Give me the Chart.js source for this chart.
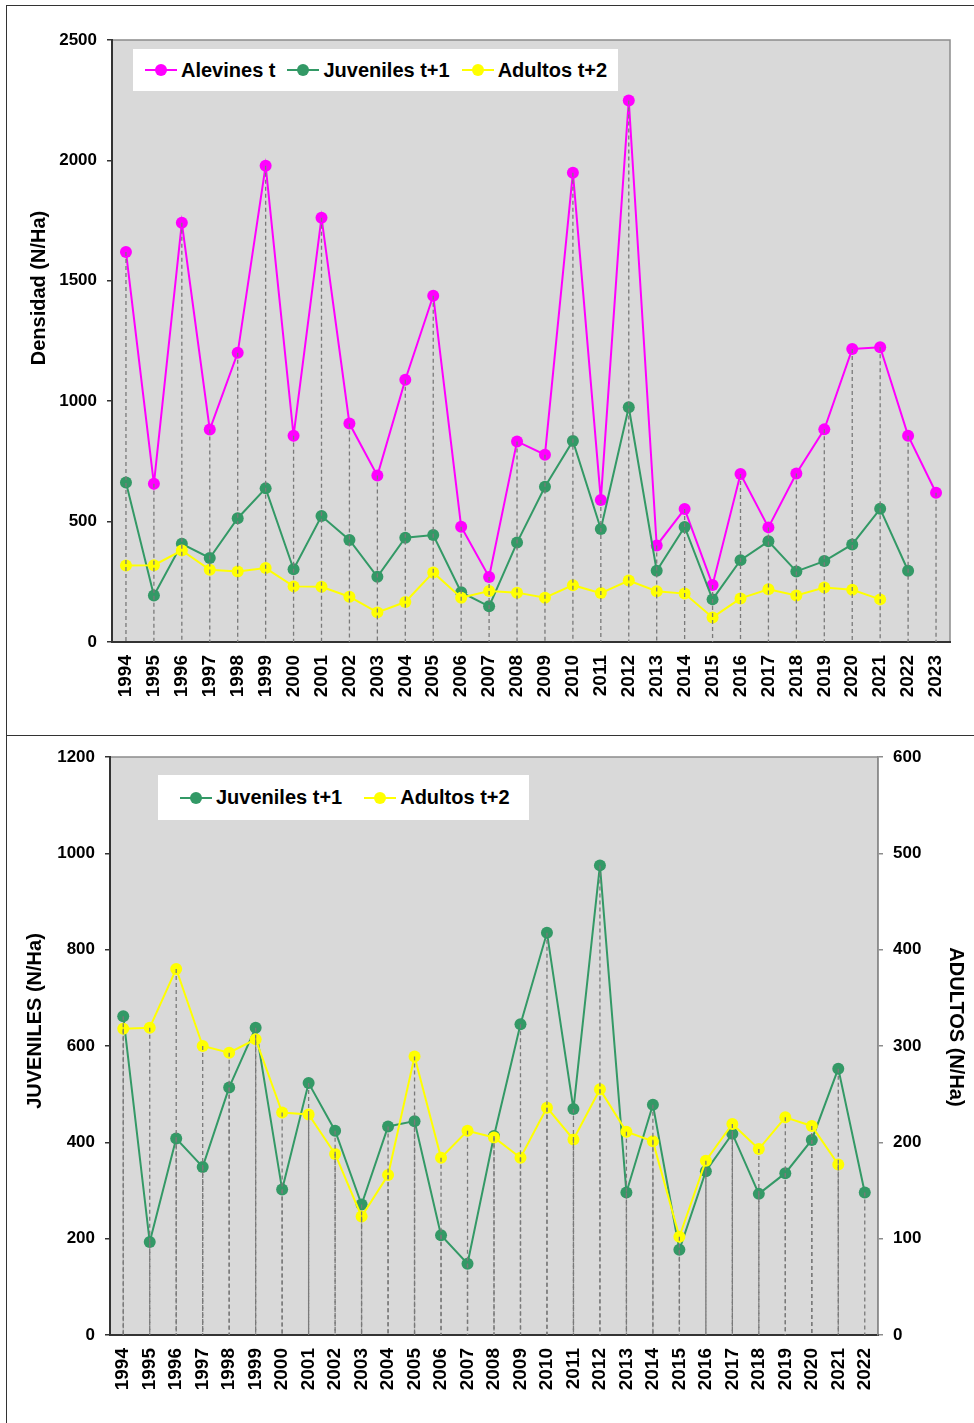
<!DOCTYPE html>
<html>
<head>
<meta charset="utf-8">
<script src="https://cdn.jsdelivr.net/npm/chart.js@4.4.1/dist/chart.umd.min.js"></script>
<style>
body { margin: 0; background: #fff; width: 974px; height: 1423px; overflow: hidden; position: relative;
       font-family: "Liberation Sans", Arial, sans-serif; }
.frame { position: absolute; border: 1px solid #333; }
.chart { position: absolute; left: 0; }
.legend { position: absolute; background: #fff; display: flex; align-items: center; box-sizing: border-box;
          font-weight: bold; font-size: 20px; color: #000; white-space: nowrap; }
.item { display: flex; align-items: center; }
.sym { position: relative; width: 32px; height: 2px; margin-right: 4px; }
.sym i { position: absolute; left: 10px; top: -5px; width: 12px; height: 12px; border-radius: 50%; }
</style>
</head>
<body>
<div class="frame" style="left:6px;top:5px;width:990px;height:729px"></div>
<div class="frame" style="left:6px;top:735px;width:990px;height:700px"></div>
<div class="chart" style="top:0;width:974px;height:735px"><canvas id="c1"></canvas></div>
<div class="chart" style="top:735px;width:974px;height:688px"><canvas id="c2"></canvas></div>
<div id="lg1" class="legend" style="left:133px;top:49px;width:485px;height:42px;padding-left:12px"></div>
<div id="lg2" class="legend" style="left:158px;top:775px;width:371px;height:45px;padding-left:22px"></div>
<script>
// datos (N/Ha)
const years = ['1994', '1995', '1996', '1997', '1998', '1999', '2000', '2001', '2002', '2003',
               '2004', '2005', '2006', '2007', '2008', '2009', '2010', '2011', '2012', '2013',
               '2014', '2015', '2016', '2017', '2018', '2019', '2020', '2021', '2022', '2023'];
const alevines = [1620, 657, 1741, 882, 1201, 1978, 857, 1762, 907, 691, 1089, 1438, 479, 270, 833,
                  778, 1949, 590, 2249, 401, 552, 237, 698, 476, 700, 883, 1217, 1224, 857, 620];
const juveniles = [662, 193, 408, 349, 514, 638, 302, 523, 424, 271, 433, 444, 207, 148, 413,
                   645, 835, 469, 975, 296, 478, 177, 340, 418, 293, 336, 405, 553, 296];
const adultos = [318, 319, 380, 300, 293, 307, 231, 229, 188, 123, 166, 289, 184, 212, 205,
                 184, 236, 203, 255, 211, 201, 102, 181, 219, 193, 226, 217, 177];
const ticksDensidad = [0, 500, 1000, 1500, 2000, 2500];
const ticksJuv = [0, 200, 400, 600, 800, 1000, 1200];
const ticksAdu = [0, 100, 200, 300, 400, 500, 600];

const MAG = '#ff00ff', GREEN = '#339966', YEL = '#ffff00';
const FAM = '"Liberation Sans", Arial, sans-serif';
Chart.defaults.font.family = FAM;
Chart.defaults.font.weight = 'bold';
Chart.defaults.color = '#000';

// fondo gris del área de trazado
const plotBg = {
  id: 'plotBg',
  beforeDraw(chart) {
    const { ctx, chartArea: a } = chart;
    ctx.save();
    ctx.fillStyle = '#d9d9d9';
    ctx.fillRect(a.left, a.top, a.width, a.height);
    ctx.strokeStyle = '#8c8c8c';
    ctx.lineWidth = 1.5;
    ctx.strokeRect(a.left, a.top, a.width, a.height);
    ctx.restore();
  }
};

// líneas de proyección (drop lines), una por grupo de ejes
const dropLines = {
  id: 'dropLines',
  afterDatasetsDraw(chart, args, opts) {
    const ctx = chart.ctx, bottom = chart.chartArea.bottom;
    ctx.save();
    ctx.strokeStyle = '#7a7a7a';
    ctx.lineWidth = 1.3;
    ctx.setLineDash([4, 3]);
    opts.groups.forEach(group => {
      chart.data.labels.forEach((lab, i) => {
        let top = null;
        group.forEach(di => {
          const v = chart.data.datasets[di].data[i];
          const pt = chart.getDatasetMeta(di).data[i];
          if (v != null && pt) top = top === null ? pt.y : Math.min(top, pt.y);
        });
        if (top === null) return;
        const x = chart.scales.x.getPixelForValue(i);
        ctx.beginPath();
        ctx.moveTo(x, top);
        ctx.lineTo(x, bottom);
        ctx.stroke();
      });
    });
    ctx.restore();
  }
};

const axisTitles = {
  id: 'axisTitles',
  afterDraw(chart, args, opts) {
    const ctx = chart.ctx;
    opts.items.forEach(t => {
      ctx.save();
      ctx.translate(t.x, t.y);
      ctx.rotate(t.rot * Math.PI / 180);
      ctx.font = 'bold 20px ' + FAM;
      ctx.fillStyle = '#000';
      ctx.textAlign = 'center';
      ctx.textBaseline = 'middle';
      ctx.fillText(t.text, 0, 0);
      ctx.restore();
    });
  }
};

function buildLegend(chart, el, gaps) {
  chart.data.datasets.forEach((ds, i) => {
    const item = document.createElement('span');
    item.className = 'item';
    if (i > 0) item.style.marginLeft = gaps + 'px';
    const sym = document.createElement('span');
    sym.className = 'sym';
    sym.style.background = ds.borderColor;
    const dot = document.createElement('i');
    dot.style.background = ds.borderColor;
    sym.appendChild(dot);
    const txt = document.createElement('span');
    txt.textContent = ds.label;
    item.appendChild(sym);
    item.appendChild(txt);
    el.appendChild(item);
  });
}

const yearTicks = { font: { size: 19, weight: 'bold' }, color: '#000', minRotation: 90, maxRotation: 90,
                    autoSkip: false, padding: 13 };
const valTicks = (list) => ({ font: { size: 17, weight: 'bold' }, color: '#000', padding: 10,
                              stepSize: list[1] - list[0], format: { useGrouping: false } });

const common = {
  responsive: true,
  maintainAspectRatio: false,
  animation: false,
  events: [],
  elements: {
    line: { borderWidth: 2, tension: 0 },
    point: { radius: 6, borderWidth: 0, hoverRadius: 6 }
  }
};

const chart1 = new Chart(document.getElementById('c1'), {
  type: 'line',
  data: {
    labels: years,
    datasets: [
      { label: 'Alevines t', data: alevines, borderColor: MAG, backgroundColor: MAG, order: 3 },
      { label: 'Juveniles t+1', data: juveniles, borderColor: GREEN, backgroundColor: GREEN, order: 2 },
      { label: 'Adultos t+2', data: adultos, borderColor: YEL, backgroundColor: YEL, order: 1 }
    ]
  },
  options: {
    ...common,
    layout: { padding: { top: 40, right: 24, left: 0, bottom: 0 } },
    plugins: {
      legend: { display: false },
      tooltip: { enabled: false },
      dropLines: { groups: [[0, 1, 2]] },
      axisTitles: { items: [{ text: 'Densidad (N/Ha)', x: 39, y: 288, rot: -90 }] }
    },
    scales: {
      x: {
        offset: true,
        grid: { display: false, drawTicks: false },
        border: { color: '#333', width: 2 },
        ticks: yearTicks,
        afterFit: s => { s.height = 93; }
      },
      y: {
        min: ticksDensidad[0], max: ticksDensidad[ticksDensidad.length - 1],
        ticks: valTicks(ticksDensidad),
        grid: { drawOnChartArea: false, tickLength: 5, color: '#333', lineWidth: 1.5 },
        border: { color: '#333', width: 2 },
        afterFit: s => { s.width = 112; }
      }
    }
  },
  plugins: [plotBg, dropLines, axisTitles]
});

const chart2 = new Chart(document.getElementById('c2'), {
  type: 'line',
  data: {
    labels: years.slice(0, juveniles.length),
    datasets: [
      { label: 'Juveniles t+1', data: juveniles, borderColor: GREEN, backgroundColor: GREEN, yAxisID: 'y', order: 2 },
      { label: 'Adultos t+2', data: adultos, borderColor: YEL, backgroundColor: YEL, yAxisID: 'y2', order: 1 }
    ]
  },
  options: {
    ...common,
    layout: { padding: { top: 22, right: 0, left: 0, bottom: 0 } },
    plugins: {
      legend: { display: false },
      tooltip: { enabled: false },
      dropLines: { groups: [[0], [1]] },
      axisTitles: { items: [
        { text: 'JUVENILES (N/Ha)', x: 35, y: 286, rot: -90 },
        { text: 'ADULTOS (N/Ha)', x: 956, y: 292, rot: 90 }
      ] }
    },
    scales: {
      x: {
        offset: true,
        grid: { display: false, drawTicks: false },
        border: { color: '#333', width: 2 },
        ticks: yearTicks,
        afterFit: s => { s.height = 88; }
      },
      y: {
        position: 'left',
        min: ticksJuv[0], max: ticksJuv[ticksJuv.length - 1],
        ticks: valTicks(ticksJuv),
        grid: { drawOnChartArea: false, tickLength: 5, color: '#333', lineWidth: 1.5 },
        border: { color: '#333', width: 2 },
        afterFit: s => { s.width = 110; }
      },
      y2: {
        position: 'right',
        min: ticksAdu[0], max: ticksAdu[ticksAdu.length - 1],
        ticks: valTicks(ticksAdu),
        grid: { drawOnChartArea: false, tickLength: 5, color: '#8c8c8c', lineWidth: 1.5 },
        border: { color: '#8c8c8c', width: 1.5 },
        afterFit: s => { s.width = 96; }
      }
    }
  },
  plugins: [plotBg, dropLines, axisTitles]
});

buildLegend(chart1, document.getElementById('lg1'), 12);
buildLegend(chart2, document.getElementById('lg2'), 22);
</script>
</body>
</html>
